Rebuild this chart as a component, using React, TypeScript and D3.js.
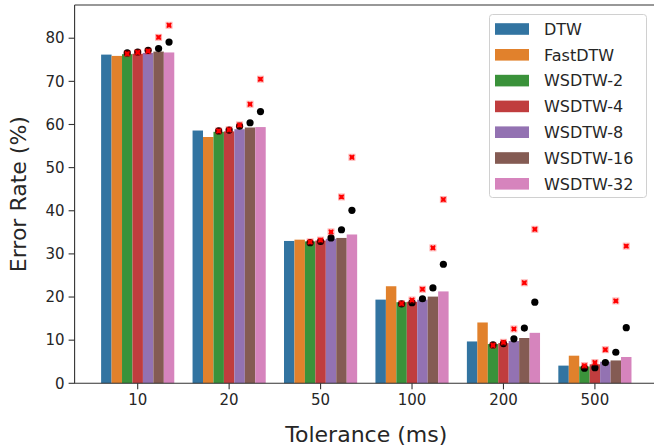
import React from "react";
import * as d3 from "d3";

const tolerances = ["10", "20", "50", "100", "200", "500"];
const seriesNames = ["DTW", "FastDTW", "WSDTW-2", "WSDTW-4", "WSDTW-8", "WSDTW-16", "WSDTW-32"];
const seriesColors = ["#3274a1", "#e1812c", "#3a923a", "#c03d3e", "#9372b2", "#845b53", "#d684bd"];

const dtw = [76.2, 58.6, 33.0, 19.4, 9.7, 4.1];
const fastDtw = [75.9, 57.1, 33.3, 22.5, 14.1, 6.4];
const wsdtw2 = [76.3, 58.3, 32.9, 18.8, 9.1, 3.9];
const wsdtw4 = [76.4, 58.4, 33.1, 18.9, 9.3, 4.4];
const wsdtw8 = [76.6, 58.9, 33.5, 19.4, 9.8, 5.0];
const wsdtw16 = [76.9, 59.3, 33.7, 20.1, 10.5, 5.3];
const wsdtw32 = [76.7, 59.4, 34.5, 21.3, 11.7, 6.1];
const barValues = [dtw, fastDtw, wsdtw2, wsdtw4, wsdtw8, wsdtw16, wsdtw32];

// black dots over WSDTW bars (series index 2..6)
const dot2 = [76.6, 58.5, 32.6, 18.4, 8.9, 3.5];
const dot4 = [76.8, 58.7, 32.9, 18.7, 9.2, 3.6];
const dot8 = [77.2, 59.6, 33.7, 19.6, 10.3, 4.8];
const dot16 = [77.6, 60.4, 35.6, 22.1, 12.8, 7.2];
const dot32 = [79.1, 63.0, 40.1, 27.6, 18.8, 12.9];
const dotValues = [dot2, dot4, dot8, dot16, dot32];

// red crosses over WSDTW bars
const cross2 = [76.4, 58.5, 32.8, 18.5, 8.8, 4.1];
const cross4 = [76.7, 58.8, 33.2, 19.3, 9.5, 4.8];
const cross8 = [77.0, 59.9, 35.1, 21.8, 12.6, 7.8];
const cross16 = [80.2, 64.7, 43.2, 31.4, 23.3, 19.1];
const cross32 = [83.0, 70.5, 52.4, 42.6, 35.7, 31.8];
const crossValues = [cross2, cross4, cross8, cross16, cross32];

const yTicks = [0, 10, 20, 30, 40, 50, 60, 70, 80];

export default function App() {
  const W = 654, H = 447;
  const left = 74.6, right = 658, top = 5, bottom = 383.3;
  const x = d3.scaleLinear().domain([-0.69, tolerances.length - 1 + 0.69]).range([left, right]);
  const y = d3.scaleLinear().domain([0, 87.7]).range([bottom, top]);
  const bw = 0.8 / seriesNames.length;
  const off = d3.scaleLinear().domain([0, seriesNames.length - 1]).range([-0.4 + bw / 2, 0.4 - bw / 2]);
  const pxW = x(bw) - x(0);
  const font = "DejaVu Sans, sans-serif";
  const txt = "#262626";
  const spine = "#333";

  return (
    <svg width={W} height={H} style={{ position: "absolute", left: 0, top: 0, background: "#fff" }}>
      {barValues.map((vals, s) =>
        vals.map((v, i) => (
          <rect key={`b${s}-${i}`} x={x(i + off(s)) - pxW / 2} y={y(v)} width={pxW} height={y(0) - y(v)} fill={seriesColors[s]} />
        ))
      )}
      {dotValues.map((vals, k) =>
        vals.map((v, i) => (
          <circle key={`d${k}-${i}`} cx={x(i + off(k + 2))} cy={y(v)} r={3.6} fill="#000" />
        ))
      )}
      {crossValues.map((vals, k) =>
        vals.map((v, i) => {
          const cx = x(i + off(k + 2)), cy = y(v), a = 2.2;
          return (
            <g key={`c${k}-${i}`}>
              <rect x={cx - 3.5} y={cy - 3.5} width={7} height={7} fill="#ff0000" opacity={0.3} />
              <rect x={cx - 2} y={cy - 2} width={4} height={4} fill="#ff0000" />
              <path d={`M${cx - a},${cy - a}L${cx + a},${cy + a}M${cx - a},${cy + a}L${cx + a},${cy - a}`} stroke="#ff0000" strokeWidth={1.5} />
            </g>
          );
        })
      )}
      {/* spines */}
      <path d={`M${left},${top}L${left},${bottom}L${right},${bottom}M${left},${top}L${right},${top}M${right},${top}L${right},${bottom}`} stroke={spine} strokeWidth={1.1} fill="none" />
      {yTicks.map((t) => (
        <g key={`yt${t}`}>
          <line x1={left - 6} x2={left} y1={y(t)} y2={y(t)} stroke={spine} strokeWidth={1.1} />
          <text x={left - 10} y={y(t)} dy="0.35em" textAnchor="end" fontFamily={font} fontSize={15} fill={txt}>{t}</text>
        </g>
      ))}
      {tolerances.map((t, i) => (
        <g key={`xt${t}`}>
          <line x1={x(i)} x2={x(i)} y1={bottom} y2={bottom + 6} stroke={spine} strokeWidth={1.1} />
          <text x={x(i)} y={bottom + 22} textAnchor="middle" fontFamily={font} fontSize={15} fill={txt}>{t}</text>
        </g>
      ))}
      <text x={(left + right) / 2} y={442} textAnchor="middle" fontFamily={font} fontSize={22} fill={txt}>Tolerance (ms)</text>
      <text transform={`translate(26,${(top + bottom) / 2}) rotate(-90)`} textAnchor="middle" fontFamily={font} fontSize={22} fill={txt}>Error Rate (%)</text>
      {/* legend */}
      <rect x={489.5} y={14.5} width={157} height={183} rx={3} fill="#fff" fillOpacity={0.8} stroke="#d0d0d0" strokeWidth={1} />
      {seriesNames.map((n, s) => (
        <g key={`lg${n}`}>
          <rect x={495} y={29 + s * 25.8 - 5.8} width={34} height={11.6} fill={seriesColors[s]} />
          <text x={544} y={29 + s * 25.8} dy="0.36em" fontFamily={font} fontSize={16} fill={txt}>{n}</text>
        </g>
      ))}
    </svg>
  );
}
